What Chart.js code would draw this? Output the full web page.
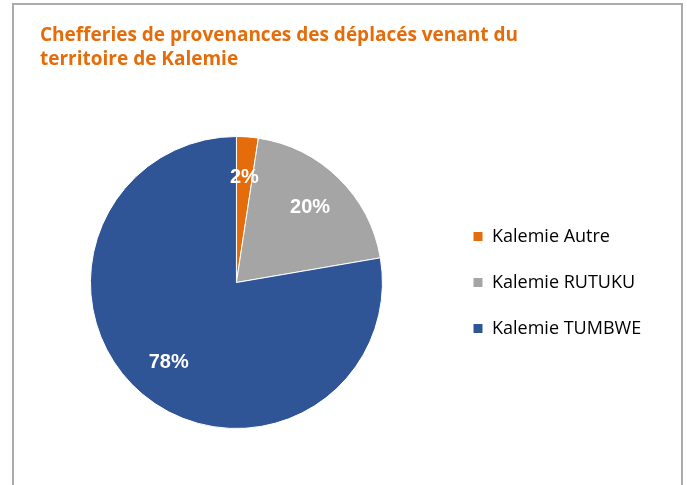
<!DOCTYPE html>
<html>
<head>
<meta charset="utf-8">
<script src="https://cdn.jsdelivr.net/npm/chart.js@4.4.1/dist/chart.umd.min.js"></script>
<style>
    body { margin: 0; background: #fff; }
    #frame { position: absolute; left: 12px; top: 3px; width: 667px; height: 500px; border: 2px solid #ababab; border-bottom: none; }
    #wrap { position: absolute; left: 0; top: 0; width: 687px; height: 485px; }
</style>
</head>
<body>
<div id="frame"></div>
<div id="wrap"><canvas id="pieChart" width="687" height="485"></canvas></div>
<script>
// chart data
const categories = ['Kalemie Autre', 'Kalemie RUTUKU', 'Kalemie TUMBWE'];
const shares = [2.4, 19.9, 77.7];
const sliceColors = ['#e46c0a', '#a5a5a5', '#2f5597'];
const titleLines = ['Chefferies de provenances des déplacés venant du', 'territoire de Kalemie'];

// move the legend so the boxes line up like the original
const legendShift = {
    id: 'legendShift',
    afterLayout: function (chart) {
        const lg = chart.legend;
        const dx = 445 - lg.left;
        lg.left += dx;
        lg.right += dx;
    }
};

// percentage labels inside the slices
const sliceLabels = {
    id: 'sliceLabels',
    afterDatasetsDraw: function (chart) {
        const ctx = chart.ctx;
        const meta = chart.getDatasetMeta(0);
        const total = shares.reduce(function (a, b) { return a + b; }, 0);
        ctx.save();
        ctx.fillStyle = '#ffffff';
        ctx.font = 'bold 20px "Liberation Sans", Arial, sans-serif';
        ctx.textAlign = 'center';
        ctx.textBaseline = 'middle';
        meta.data.forEach(function (arc, i) {
            const p = arc.getProps(['x', 'y', 'startAngle', 'endAngle', 'outerRadius'], true);
            const mid = (p.startAngle + p.endAngle) / 2;
            const r = p.outerRadius * 0.72;
            const txt = Math.round(shares[i] / total * 100) + '%';
            ctx.fillText(txt, p.x + Math.cos(mid) * r, p.y + Math.sin(mid) * r);
        });
        ctx.restore();
    }
};

const ctx = document.getElementById('pieChart');
new Chart(ctx, {
    type: 'pie',
    data: {
        labels: categories,
        datasets: [{
            data: shares,
            backgroundColor: sliceColors,
            borderColor: '#ffffff',
            borderWidth: 1
        }]
    },
    options: {
        responsive: false,
        animation: false,
        layout: {
            padding: { left: 40, right: 48, top: 10, bottom: 56 }
        },
        plugins: {
            title: {
                display: true,
                text: titleLines,
                align: 'start',
                color: '#e46c0a',
                font: { family: 'Open Sans', size: 19, weight: 'bold', lineHeight: '24px' },
                padding: { top: 14, bottom: 64 }
            },
            legend: {
                position: 'right',
                fullSize: false,
                labels: {
                    boxWidth: 10,
                    boxHeight: 10,
                    padding: 28,
                    color: '#000',
                    font: { family: 'Open Sans', size: 18 }
                }
            },
            tooltip: { enabled: false }
        }
    },
    plugins: [legendShift, sliceLabels]
});
</script>
</body>
</html>
